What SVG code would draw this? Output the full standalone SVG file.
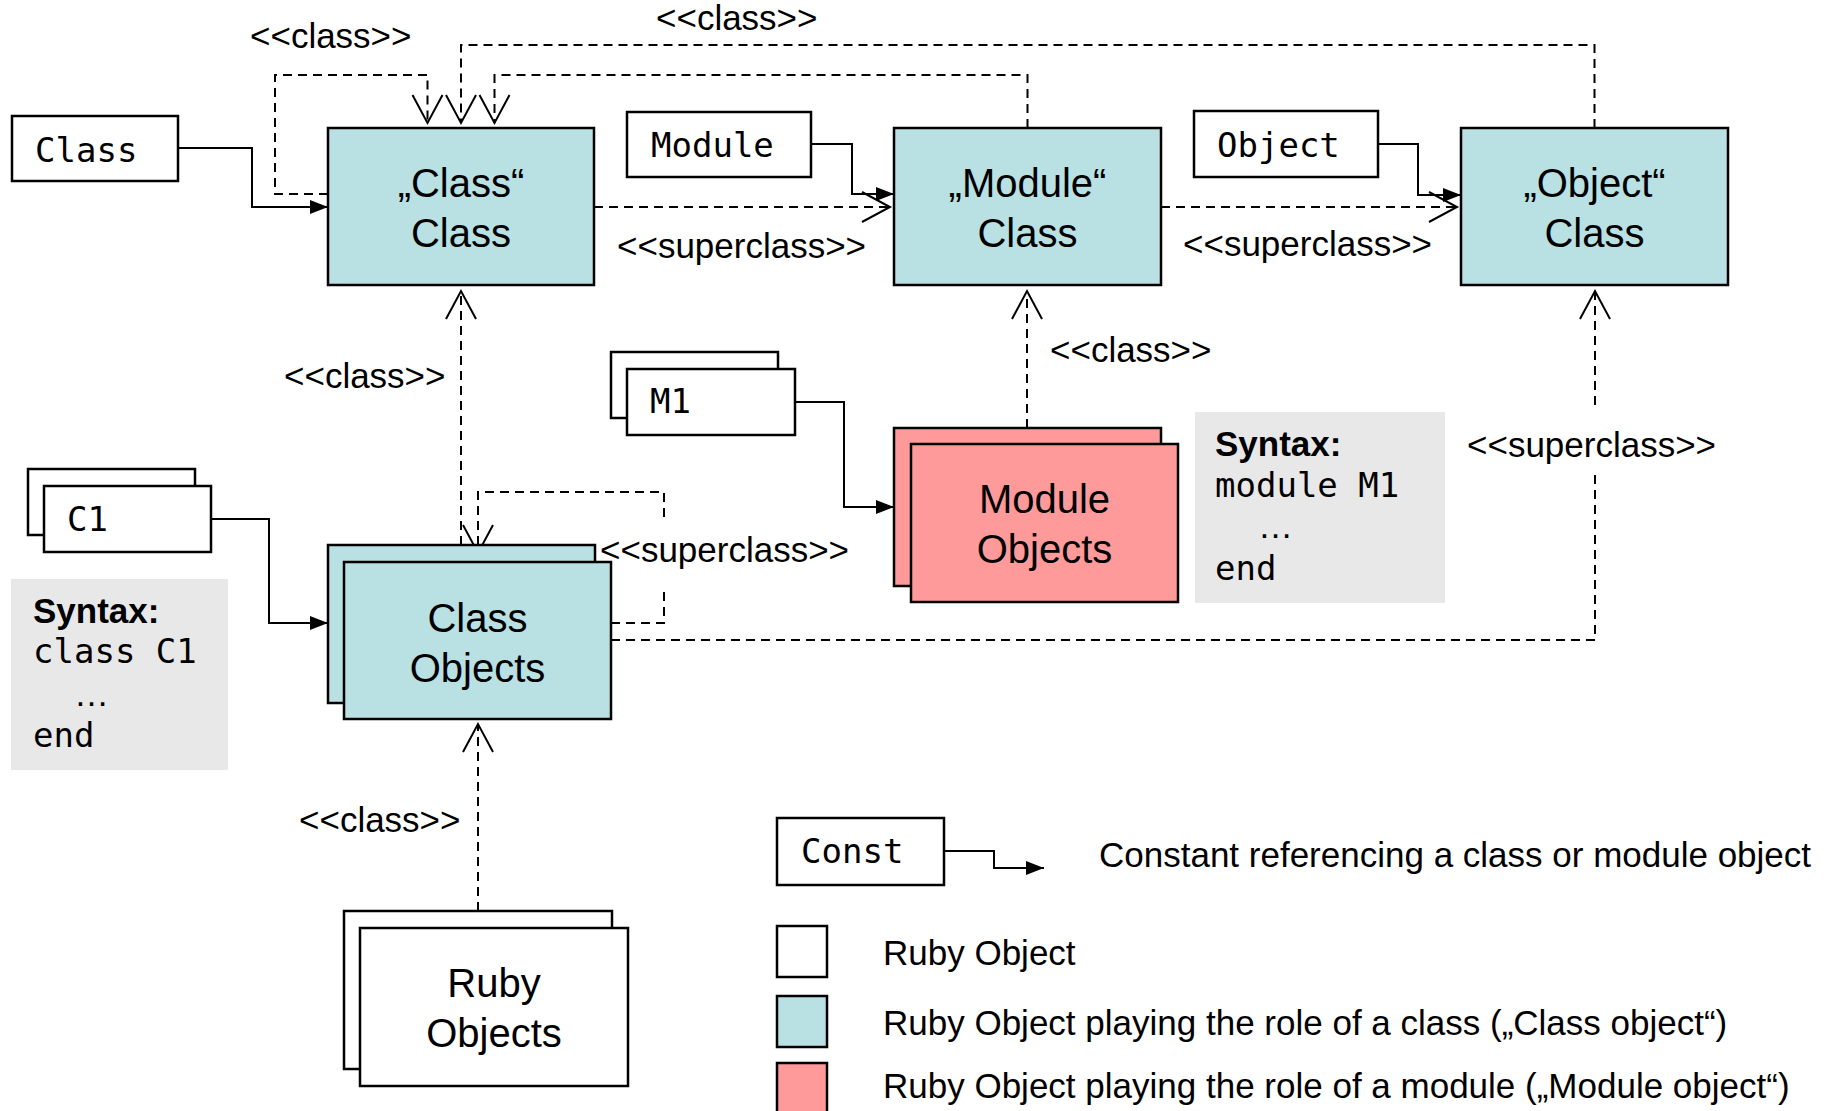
<svg xmlns="http://www.w3.org/2000/svg" width="1832" height="1111" viewBox="0 0 1832 1111">
  <style>
    .box { stroke: #000; stroke-width: 2.5; }
    .obj { fill: #fff; }
    .cls { fill: #B9E0E3; }
    .mod { fill: #FF9A9A; }
    .syn { fill: #E8E8E8; stroke: none; }
    .ref { fill: none; stroke: #000; stroke-width: 2; marker-end: url(#solidHead); }
    .rel { fill: none; stroke: #000; stroke-width: 2; stroke-dasharray: 9 6; marker-end: url(#openHead); }
    .lbl { font-family: "Liberation Sans", Arial, sans-serif; font-size: 35px; fill: #000; }
    .big { font-family: "Liberation Sans", Arial, sans-serif; font-size: 40px; fill: #000; text-anchor: middle; }
    .mono { font-family: "DejaVu Sans Mono", "Liberation Mono", monospace; font-size: 34px; fill: #000; }
    .bold { font-family: "Liberation Sans", Arial, sans-serif; font-size: 35px; font-weight: bold; fill: #000; }
  </style>
  <defs>
    <marker id="solidHead" viewBox="0 0 18 14" refX="18" refY="7" markerWidth="18" markerHeight="14" markerUnits="userSpaceOnUse" orient="auto">
      <path d="M0,0 L18,7 L0,14 Z" fill="#000" stroke="none"/>
    </marker>
    <marker id="openHead" viewBox="-2 -2 32 34" refX="28" refY="15" markerWidth="32" markerHeight="34" markerUnits="userSpaceOnUse" orient="auto" overflow="visible">
      <path d="M0,0 L28,15 L0,30" fill="none" stroke="#000" stroke-width="2" stroke-dasharray="none"/>
    </marker>
  </defs>

  <rect width="1832" height="1111" fill="#fff"/>

  <!-- connectors and their stereotype labels -->
  <g id="connectors">
    <!-- constant references -->
    <path class="ref" d="M178 148 H252 V207 H328"/>
    <path class="ref" d="M811 144 H852 V194 H894"/>
    <path class="ref" d="M1378 144 H1418 V195 H1461"/>
    <path class="ref" d="M211 519 H269 V623 H328"/>
    <path class="ref" d="M795 402 H844 V507 H894"/>

    <!-- class relations into the "Class" class -->
    <path class="rel" d="M1594.5 128 V45 H461 V123"/>
    <path class="rel" d="M1027.5 128 V75 H494.5 V123"/>
    <path class="rel" d="M328 194 H275 V75 H427.5 V123"/>
    <path class="rel" d="M461 545 V291"/>

    <!-- superclass chain -->
    <path class="rel" d="M594 207 H890"/>
    <path class="rel" d="M1161 207 H1457"/>
    <path class="rel" d="M611 640 H1595 V475 M1595 405 V291"/>
    <path class="rel" d="M611 623 H664 V590 M664 517 V492 H478 V553"/>

    <!-- module objects and ruby objects -->
    <path class="rel" d="M1027 428 V291"/>
    <path class="rel" d="M478 911 V724"/>

    <text class="lbl" x="250" y="48">&lt;&lt;class&gt;&gt;</text>
    <text class="lbl" x="656" y="30">&lt;&lt;class&gt;&gt;</text>
    <text class="lbl" x="617" y="258">&lt;&lt;superclass&gt;&gt;</text>
    <text class="lbl" x="1183" y="256">&lt;&lt;superclass&gt;&gt;</text>
    <text class="lbl" x="284" y="388">&lt;&lt;class&gt;&gt;</text>
    <text class="lbl" x="1050" y="362">&lt;&lt;class&gt;&gt;</text>
    <text class="lbl" x="1467" y="457">&lt;&lt;superclass&gt;&gt;</text>
    <text class="lbl" x="600" y="562">&lt;&lt;superclass&gt;&gt;</text>
    <text class="lbl" x="299" y="832">&lt;&lt;class&gt;&gt;</text>
  </g>

  <!-- constants -->
  <g id="const-class">
    <rect class="box obj" x="12" y="116" width="166" height="65"/>
    <text class="mono" x="35" y="162">Class</text>
  </g>
  <g id="const-module">
    <rect class="box obj" x="627" y="112" width="184" height="65"/>
    <text class="mono" x="651" y="157">Module</text>
  </g>
  <g id="const-object">
    <rect class="box obj" x="1194" y="111" width="184" height="66"/>
    <text class="mono" x="1217" y="157">Object</text>
  </g>
  <g id="const-c1">
    <rect class="box obj" x="28" y="469" width="167" height="66"/>
    <rect class="box obj" x="44" y="486" width="167" height="66"/>
    <text class="mono" x="67" y="531">C1</text>
  </g>
  <g id="const-m1">
    <rect class="box obj" x="611" y="352" width="167" height="66"/>
    <rect class="box obj" x="627" y="369" width="168" height="66"/>
    <text class="mono" x="650" y="413">M1</text>
  </g>

  <!-- class objects -->
  <g id="class-class">
    <rect class="box cls" x="328" y="128" width="266" height="157"/>
    <text class="big" x="461" y="197">„Class“</text>
    <text class="big" x="461" y="247">Class</text>
  </g>
  <g id="module-class">
    <rect class="box cls" x="894" y="128" width="267" height="157"/>
    <text class="big" x="1027.5" y="197">„Module“</text>
    <text class="big" x="1027.5" y="247">Class</text>
  </g>
  <g id="object-class">
    <rect class="box cls" x="1461" y="128" width="267" height="157"/>
    <text class="big" x="1594.5" y="197">„Object“</text>
    <text class="big" x="1594.5" y="247">Class</text>
  </g>
  <g id="class-objects">
    <rect class="box cls" x="328" y="545" width="267" height="158"/>
    <rect class="box cls" x="344" y="562" width="267" height="157"/>
    <text class="big" x="477.5" y="632">Class</text>
    <text class="big" x="477.5" y="682">Objects</text>
  </g>
  <g id="module-objects">
    <rect class="box mod" x="894" y="428" width="267" height="158"/>
    <rect class="box mod" x="911" y="444" width="267" height="158"/>
    <text class="big" x="1044.5" y="513">Module</text>
    <text class="big" x="1044.5" y="563">Objects</text>
  </g>
  <g id="ruby-objects">
    <rect class="box obj" x="344" y="911" width="268" height="158"/>
    <rect class="box obj" x="360" y="928" width="268" height="158"/>
    <text class="big" x="494" y="997">Ruby</text>
    <text class="big" x="494" y="1047">Objects</text>
  </g>

  <!-- syntax notes -->
  <g id="syntax-class">
    <rect class="syn" x="11" y="579" width="217" height="191"/>
    <text class="bold" x="33" y="623">Syntax:</text>
    <text class="mono" x="33" y="663">class C1</text>
    <text class="lbl" x="74" y="706" font-size="28">…</text>
    <text class="mono" x="33" y="747">end</text>
  </g>
  <g id="syntax-module">
    <rect class="syn" x="1195" y="412" width="250" height="191"/>
    <text class="bold" x="1215" y="456">Syntax:</text>
    <text class="mono" x="1215" y="497">module M1</text>
    <text class="lbl" x="1258" y="538" font-size="28">…</text>
    <text class="mono" x="1215" y="580">end</text>
  </g>

  <!-- legend -->
  <g id="legend">
    <rect class="box obj" x="777" y="818" width="167" height="67"/>
    <text class="mono" x="801" y="863">Const</text>
    <path class="ref" d="M944 851 H994 V868 H1044"/>
    <text class="lbl" x="1099" y="867">Constant referencing a class or module object</text>
    <rect class="box obj" x="777" y="926" width="50" height="51"/>
    <text class="lbl" x="883" y="965">Ruby Object</text>
    <rect class="box cls" x="777" y="996" width="50" height="51"/>
    <text class="lbl" x="883" y="1035">Ruby Object playing the role of a class („Class object“)</text>
    <rect class="box mod" x="777" y="1063" width="50" height="60"/>
    <text class="lbl" x="883" y="1098">Ruby Object playing the role of a module („Module object“)</text>
  </g>
</svg>
